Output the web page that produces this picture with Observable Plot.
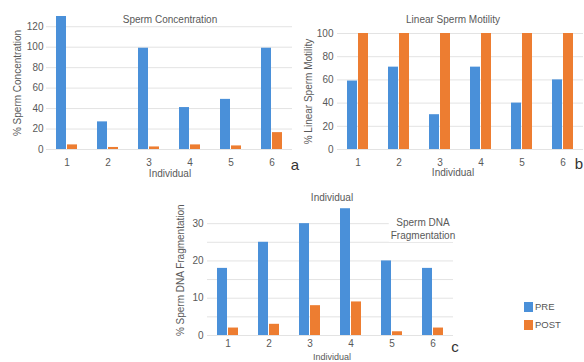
<!DOCTYPE html>
<html>
<head>
<meta charset="utf-8">
<script src="https://cdn.jsdelivr.net/npm/d3@7"></script>
<script src="https://cdn.jsdelivr.net/npm/@observablehq/plot@0.6"></script>
<style>
  html, body { margin: 0; padding: 0; background: #fff; }
  #wrap { position: relative; width: 584px; height: 362px; overflow: hidden; background: #fff;
          font-family: "Liberation Sans", Arial, sans-serif; color: #595959; }
  #wrap svg { position: absolute; overflow: visible; }
  .lbl { position: absolute; transform: translate(-50%, -50%); white-space: nowrap; font-size: 10px; line-height: 1; }
  .letter { position: absolute; transform: translate(-50%, -50%); font-size: 15px; color: #333; line-height: 1; }
  .sw { position: absolute; width: 9px; height: 10px; }
</style>
</head>
<body>
<div id="wrap"></div>
<script>
const individuals = ["1", "2", "3", "4", "5", "6"];
const phases = ["PRE", "POST"];

const concPre  = [130, 27, 99, 41, 49, 99];
const concPost = [4.5, 2, 2.5, 4.5, 3.5, 16.5];
const motPre   = [59, 71, 30, 71, 40, 60];
const motPost  = [100, 100, 100, 100, 100, 100];
const fragPre  = [18, 25, 30, 34, 20, 18];
const fragPost = [2, 3, 8, 9, 1, 2];

const concTicks = [0, 20, 40, 60, 80, 100, 120];
const motTicks  = [0, 20, 40, 60, 80, 100];
const fragTicks = [0, 10, 20, 30];
const fragGrid  = [0, 5, 10, 15, 20, 25, 30];

const BLUE = "#4a90d9";
const ORANGE = "#ed7d31";

function rows(pre, post) {
  return individuals.flatMap((id, i) => [
    {id, phase: "PRE", v: pre[i]},
    {id, phase: "POST", v: post[i]}
  ]);
}

function panel({pre, post, yDomain, ticks, grid, yLabel, width, height, marginLeft, marginTop, marginBottom, labelOffset, tickPadding, fxPadding, left, top}) {
  const svg = Plot.plot({
    width, height, marginLeft, marginRight: 0, marginTop, marginBottom,
    style: {fontFamily: '"Liberation Sans", Arial, sans-serif', fontSize: "10px", color: "#595959", background: "transparent", overflow: "visible"},
    fx: {domain: individuals, padding: 0, label: null, tickSize: 0, tickPadding: fxPadding},
    x: {domain: phases, paddingInner: 0.12, paddingOuter: 0.9, axis: null},
    y: {domain: yDomain, ticks, tickSize: 0, tickPadding, label: yLabel, labelAnchor: "center", labelOffset, labelArrow: "none"},
    color: {domain: phases, range: [BLUE, ORANGE]},
    marks: [
      Plot.ruleY(grid, {stroke: "#e3e3e3", strokeWidth: 1}),
      Plot.barY(rows(pre, post), {fx: "id", x: "phase", y: "v", fill: "phase"})
    ]
  });
  svg.style.left = left + "px";
  svg.style.top = top + "px";
  return svg;
}

const wrap = document.getElementById("wrap");

wrap.appendChild(panel({
  pre: concPre, post: concPost, yDomain: [0, 130], ticks: concTicks, grid: concTicks,
  yLabel: "% Sperm Concentration",
  width: 292, height: 180, marginLeft: 46, marginTop: 16, marginBottom: 31,
  labelOffset: 33, tickPadding: 3, fxPadding: 9, left: 0, top: 0
}));

wrap.appendChild(panel({
  pre: motPre, post: motPost, yDomain: [0, 100], ticks: motTicks, grid: motTicks,
  yLabel: "% Linear Sperm Motility",
  width: 294, height: 180, marginLeft: 46, marginTop: 33, marginBottom: 31,
  labelOffset: 33, tickPadding: 4, fxPadding: 9, left: 290, top: 0
}));

wrap.appendChild(panel({
  pre: fragPre, post: fragPost, yDomain: [0, 35], ticks: fragTicks, grid: fragGrid,
  yLabel: "% Sperm DNA Fragmentation",
  width: 304, height: 182, marginLeft: 56, marginTop: 24.5, marginBottom: 27,
  labelOffset: 31, tickPadding: 4, fxPadding: 4, left: 150, top: 180
}));

function label(text, x, y, cls = "lbl", extra = {}) {
  const d = document.createElement("div");
  d.className = cls;
  d.innerHTML = text;
  d.style.left = x + "px";
  d.style.top = y + "px";
  Object.assign(d.style, extra);
  wrap.appendChild(d);
  return d;
}

label("Sperm Concentration", 170, 20);
label("Linear Sperm Motility", 453, 20);
label("Individual", 170, 174);
label("Individual", 453, 173);
label("Individual", 332, 198);
label("Individual", 332, 356.5, "lbl", {fontSize: "9px"});
label("Sperm DNA<br>Fragmentation", 423, 229, "lbl",
      {textAlign: "center", lineHeight: "13px", background: "#fff", padding: "0 2px"});
label("a", 295, 164, "letter");
label("c", 455, 346, "letter");
label("b", 579, 163, "letter");

// legend
const legend = [["PRE", BLUE, 307], ["POST", ORANGE, 325]];
for (const [name, col, cy] of legend) {
  const s = document.createElement("div");
  s.className = "sw";
  s.style.left = "524px";
  s.style.top = (cy - 5) + "px";
  s.style.background = col;
  wrap.appendChild(s);
  label(name, 535, cy, "lbl", {transform: "translate(0,-50%)", fontSize: "9.5px", color: "#555"});
}
</script>
</body>
</html>
